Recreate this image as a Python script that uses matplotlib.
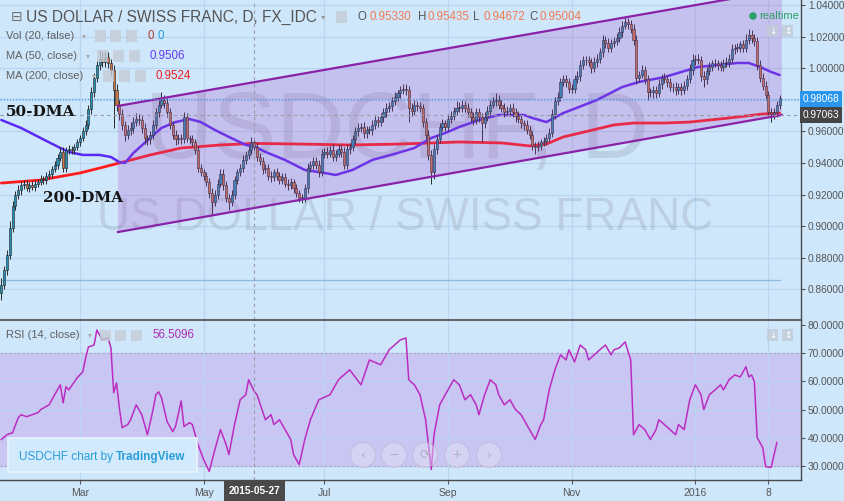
import numpy as np
import pandas as pd
import matplotlib
matplotlib.use("Agg")
import matplotlib.pyplot as plt
from matplotlib.patches import Rectangle, Ellipse, Polygon

plt.rcParams['font.family'] = ['Liberation Sans', 'DejaVu Sans']

# ---------------- data ----------------
dates = pd.bdate_range('2015-01-21', '2016-02-12')
first_open = 0.858
closes = [
    0.863, 0.872, 0.882, 0.899, 0.913, 0.920, 0.923, 0.926, 0.927, 0.924,
    0.926, 0.925, 0.927, 0.928, 0.930, 0.929, 0.932, 0.933, 0.936, 0.939,
    0.943, 0.947, 0.937, 0.948, 0.949, 0.948, 0.950, 0.953, 0.956, 0.960,
    0.964, 0.974, 0.985, 0.994, 1.002, 1.006, 1.004, 1.007, 1.003, 0.999,
    0.986, 0.977, 0.971, 0.964, 0.958, 0.961, 0.962, 0.966, 0.968, 0.967,
    0.962, 0.956, 0.955, 0.958, 0.964, 0.972, 0.977, 0.980, 0.978, 0.972,
    0.964, 0.958, 0.955, 0.956, 0.955, 0.969, 0.956, 0.955, 0.953, 0.948,
    0.937, 0.934, 0.932, 0.928, 0.921, 0.915, 0.920, 0.927, 0.933, 0.926,
    0.918, 0.915, 0.920, 0.929, 0.934, 0.937, 0.942, 0.945, 0.948, 0.9533,
    0.9500, 0.944, 0.941, 0.936, 0.937, 0.932, 0.931, 0.934, 0.932, 0.929,
    0.931, 0.927, 0.926, 0.928, 0.924, 0.921, 0.918, 0.918, 0.924, 0.937,
    0.939, 0.941, 0.939, 0.934, 0.946, 0.947, 0.946, 0.948, 0.944, 0.946,
    0.949, 0.947, 0.939, 0.949, 0.950, 0.955, 0.960, 0.962, 0.963, 0.959,
    0.961, 0.961, 0.964, 0.967, 0.966, 0.969, 0.972, 0.975, 0.976, 0.979,
    0.982, 0.984, 0.986, 0.987, 0.986, 0.975, 0.973, 0.977, 0.976, 0.975,
    0.966, 0.958, 0.945, 0.934, 0.949, 0.955, 0.963, 0.965, 0.963, 0.968,
    0.970, 0.973, 0.975, 0.975, 0.977, 0.975, 0.972, 0.969, 0.967, 0.972,
    0.969, 0.965, 0.969, 0.973, 0.977, 0.979, 0.980, 0.977, 0.975, 0.972,
    0.973, 0.975, 0.972, 0.970, 0.968, 0.965, 0.964, 0.961, 0.958, 0.951,
    0.950, 0.951, 0.953, 0.954, 0.956, 0.959, 0.971, 0.979, 0.982, 0.991,
    0.993, 0.991, 0.987, 0.987, 0.993, 0.995, 1.002, 1.005, 1.005, 1.004,
    1.000, 1.004, 1.006, 1.010, 1.018, 1.016, 1.013, 1.016, 1.017, 1.019,
    1.023, 1.027, 1.029, 1.028, 1.025, 1.018, 0.994, 0.996, 0.999, 0.993,
    0.985, 0.985, 0.986, 0.984, 0.990, 0.994, 0.993, 0.991, 0.988, 0.988,
    0.986, 0.988, 0.986, 0.989, 0.993, 0.999, 1.005, 1.006, 1.005, 0.995,
    0.993, 0.998, 1.001, 1.003, 1.003, 1.002, 1.001, 1.003, 1.004, 1.006,
    1.012, 1.013, 1.013, 1.015, 1.013, 1.018, 1.021, 1.019, 1.017, 1.002,
    0.994, 0.989, 0.983, 0.972, 0.971, 0.972, 0.977, 0.981]
# wick lengths above / below the body, in pips
wick_hi = [
    40, 30, 30, 40, 30, 25, 30, 25, 20, 25, 20, 25, 20, 20, 25, 20, 20, 25, 20, 25,
    30, 30, 30, 20, 25, 20, 20, 25, 20, 25, 30, 30, 30, 30, 30, 55, 40, 40, 35, 30,
    30, 40, 30, 30, 25, 30, 40, 30, 35, 30, 25, 30, 20, 25, 30, 30, 30, 50, 30, 30,
    25, 25, 30, 25, 25, 30, 25, 20, 25, 25, 30, 25, 20, 25, 25, 30, 30, 30, 35, 30,
    25, 25, 30, 30, 25, 25, 30, 25, 25, 30, 15, 30, 25, 30, 25, 25, 30, 25, 30, 25,
    25, 25, 30, 25, 20, 25, 20, 25, 30, 30, 25, 30, 25, 30, 30, 25, 30, 30, 40, 25,
    30, 25, 30, 30, 25, 30, 30, 30, 25, 30, 25, 25, 30, 25, 30, 25, 30, 30, 25, 30,
    30, 25, 30, 30, 30, 25, 30, 30, 25, 25, 25, 25, 30, 30, 30, 30, 25, 30, 25, 30,
    30, 25, 40, 35, 30, 25, 30, 25, 30, 30, 30, 25, 30, 30, 30, 25, 40, 30, 30, 30,
    30, 25, 30, 25, 30, 30, 25, 30, 25, 25, 25, 30, 25, 25, 25, 30, 30, 25, 30, 30,
    30, 25, 30, 30, 25, 30, 30, 30, 25, 30, 25, 30, 30, 30, 30, 25, 30, 25, 30, 30,
    30, 30, 35, 30, 25, 30, 30, 25, 30, 25, 25, 25, 30, 25, 30, 25, 30, 25, 30, 25,
    30, 25, 25, 30, 30, 35, 40, 25, 30, 30, 30, 25, 30, 25, 30, 25, 25, 30, 30, 30,
    30, 25, 30, 25, 30, 35, 40, 30, 25, 30, 30, 30, 30, 25, 30, 30, 25, 20]
wick_lo = [
    50, 30, 30, 30, 25, 30, 25, 30, 25, 20, 25, 20, 25, 20, 20, 25, 20, 20, 25, 20,
    25, 20, 30, 25, 20, 25, 20, 20, 25, 20, 25, 25, 30, 30, 30, 30, 30, 30, 30, 35,
    240, 40, 35, 30, 40, 30, 35, 30, 25, 30, 30, 40, 35, 30, 25, 25, 30, 25, 30, 30,
    25, 30, 35, 30, 30, 25, 25, 30, 25, 25, 30, 25, 30, 25, 30, 80, 25, 30, 25, 30,
    30, 50, 25, 30, 25, 25, 30, 25, 25, 20, 35, 30, 25, 30, 25, 25, 30, 25, 30, 25,
    25, 25, 30, 25, 30, 25, 30, 35, 25, 30, 25, 30, 25, 30, 25, 30, 30, 25, 30, 30,
    25, 30, 30, 25, 30, 25, 30, 30, 25, 30, 30, 25, 30, 25, 30, 25, 30, 30, 25, 30,
    25, 30, 30, 25, 30, 90, 30, 25, 30, 30, 30, 30, 30, 70, 40, 30, 25, 30, 25, 30,
    25, 30, 25, 30, 30, 25, 30, 30, 30, 25, 30, 120, 30, 25, 30, 25, 30, 30, 25, 30,
    25, 30, 30, 40, 25, 30, 30, 25, 30, 30, 40, 25, 30, 25, 25, 30, 25, 30, 25, 30,
    25, 30, 25, 25, 30, 25, 30, 25, 30, 25, 30, 25, 30, 25, 30, 30, 25, 30, 25, 25,
    25, 30, 25, 30, 30, 35, 40, 30, 25, 30, 50, 30, 40, 30, 25, 30, 25, 30, 25, 30,
    30, 25, 30, 25, 30, 25, 30, 30, 25, 30, 50, 30, 25, 30, 25, 30, 25, 30, 25, 30,
    25, 30, 25, 30, 25, 30, 25, 30, 30, 30, 30, 30, 30, 30, 50, 30, 30, 30]

# moving averages (bar index, value)
ma50_idx = [0, 7, 14, 21, 24, 29, 35, 39, 42, 44, 47, 51, 57, 62, 67, 71, 76, 81, 87, 90,
            94, 101, 108, 115, 119, 125, 132, 141, 147, 153, 158, 163, 170, 177, 182,
            186, 189, 194, 200, 212, 221, 227, 236, 242, 248, 255, 262, 266, 270, 274, 277]
ma50_val = [0.9672, 0.9622, 0.9558, 0.9495, 0.9470, 0.9451, 0.9451, 0.9438, 0.9406, 0.9400,
            0.9463, 0.9527, 0.9622, 0.9659, 0.9678, 0.9659, 0.9609, 0.9565, 0.9514, 0.9506,
            0.9470, 0.9419, 0.9356, 0.9337, 0.9324, 0.9356, 0.9419, 0.9463, 0.9495, 0.9558,
            0.9590, 0.9628, 0.9672, 0.9704, 0.9704, 0.9704, 0.9685, 0.9659, 0.9716, 0.9799,
            0.9881, 0.9913, 0.9944, 0.9976, 1.0008, 1.0020, 1.0033, 1.0033, 1.0008, 0.9976,
            0.9957]
ma200_idx = [0, 14, 28, 35, 42, 53, 64, 78, 90, 106, 124, 142, 163, 178, 188, 194,
             200, 206, 218, 225, 236, 245, 259, 271, 277]
ma200_val = [0.9273, 0.9292, 0.9337, 0.9368, 0.9400, 0.9451, 0.9495, 0.9514, 0.9524, 0.9520,
             0.9514, 0.9520, 0.9533, 0.9527, 0.9508, 0.9520, 0.9565, 0.9590, 0.9641, 0.9653,
             0.9653, 0.9659, 0.9685, 0.9710, 0.9716]

# RSI(14) (bar index, value)
rsi_idx = [0, 2, 4, 6, 7, 9, 11, 13, 14, 17, 19, 21, 22, 23, 24, 27, 29, 30, 31, 33,
           34, 36, 38, 39, 40, 41, 42, 43, 45, 46, 48, 50, 52, 54, 55, 56, 57, 59, 61, 62,
           64, 65, 67, 68, 70, 72, 74, 76, 78, 80, 81, 83, 85, 87, 88, 90, 91, 94, 96, 97,
           99, 101, 103, 104, 106, 108, 110, 113, 117, 120, 124, 128, 131, 135, 138, 142,
           144, 145, 147, 149, 151, 153, 154, 156, 158, 161, 163, 165, 167, 169, 170, 172,
           174, 176, 177, 179, 181, 183, 185, 186, 188, 190, 192, 193, 195, 197, 199, 201,
           202, 204, 206, 208, 209, 211, 213, 215, 217, 218, 220, 222, 224, 225, 227, 229,
           231, 233, 234, 236, 238, 240, 241, 243, 245, 247, 249, 250, 252, 254, 256, 257,
           259, 261, 263, 265, 266, 267, 268, 269, 271, 272, 274, 276]
rsi_val = [39.4, 41.1, 41.8, 47.1, 48.2, 47.5, 48.2, 48.9, 50.0, 51.7, 55.3, 58.8, 52.4, 58.1,
           57.0, 61.3, 63.4, 68.3, 72.2, 72.9, 78.2, 74.7, 75.4, 71.9, 56.0, 59.5, 50.7, 43.6,
           44.7, 46.4, 51.7, 48.2, 41.1, 50.0, 55.3, 56.3, 54.2, 45.7, 42.2, 44.0, 53.1, 44.0,
           45.4, 44.7, 37.6, 32.3, 28.1, 35.8, 42.9, 37.6, 34.1, 44.7, 53.5, 55.3, 60.6, 56.5,
           55.3, 46.4, 48.2, 44.7, 46.4, 42.9, 39.4, 34.1, 30.5, 39.4, 46.4, 53.5, 55.3, 60.6,
           64.1, 58.8, 67.6, 65.9, 71.2, 74.7, 75.4, 60.6, 58.8, 55.3, 46.4, 28.8, 41.1, 51.7,
           55.3, 60.6, 58.8, 53.5, 55.3, 51.7, 48.2, 55.3, 60.6, 58.8, 55.3, 51.7, 53.5, 50.0,
           48.2, 46.4, 42.9, 39.4, 44.7, 46.4, 57.0, 64.1, 69.4, 67.6, 71.2, 66.9, 72.9, 71.2,
           67.6, 69.4, 71.2, 72.9, 69.4, 71.2, 71.9, 74.0, 67.6, 41.1, 44.7, 42.9, 39.4, 42.9,
           46.4, 44.7, 42.9, 41.1, 44.7, 42.9, 53.5, 58.8, 55.3, 50.0, 55.3, 57.0, 58.8, 57.0,
           60.6, 62.3, 61.6, 65.2, 61.6, 62.3, 59.9, 40.1, 36.5, 29.8, 29.5, 38.3]

# trend channel drawn on the chart (bar index, price)
chan_idx = [41.5, 277.8]
chan_upper = [0.9761, 1.0495]
chan_lower = [0.8963, 0.9704]
hline_price = 0.866

last_price = 0.98068
cross_price = 0.97063
cross_date = '2015-05-27'

price_ticks = [0.86, 0.88, 0.90, 0.92, 0.94, 0.96, 0.98, 1.00, 1.02, 1.04]
hidden_tick = 0.98  # covered by the last-price label
rsi_ticks = [30, 40, 50, 60, 70, 80]
time_tick_dates = ['2015-03-02', '2015-05-01', '2015-07-01', '2015-09-01',
                   '2015-11-02', '2016-01-01', '2016-02-08']
time_tick_labels = ['Mar', 'May', 'Jul', 'Sep', 'Nov', '2016', '8']

# ---------------- styling ----------------
W, H = 844, 501
BG = '#cfe7fb'
GRID = '#b8d6f1'
UP = '#2290b4'
DN = '#cf7440'
EDGE = '#1e1e1e'
TXT = '#555555'


def fx(x):
    return x / W


def fy(y):
    return 1 - y / H


fig = plt.figure(figsize=(W / 100, H / 100), dpi=100, facecolor=BG)
ax = fig.add_axes([0, 1 - 320 / H, 801 / W, 320 / H], facecolor=BG)
ax2 = fig.add_axes([0, 1 - 480 / H, 801 / W, 160 / H], facecolor=BG, sharex=ax)

n = len(closes)
idx = np.arange(n)
c = np.array(closes)
o = np.array([first_open] + closes[:-1])
hi = np.maximum(o, c) + np.array(wick_hi) / 1e4
lo = np.minimum(o, c) - np.array(wick_lo) / 1e4

x0, x1 = -0.47, 284.6
ax.set_xlim(x0, x1)
ax.set_ylim(0.84063, 1.04316)
ax2.set_ylim(25.05, 81.77)

# grid
tick_pos = [dates.get_loc(pd.Timestamp(d)) for d in time_tick_dates]
for a in (ax, ax2):
    for p in tick_pos:
        a.axvline(p, color=GRID, lw=0.9, zorder=0.5)
for p in price_ticks:
    ax.axhline(p, color=GRID, lw=0.9, zorder=0.5)
for r in [40, 50, 60]:
    ax2.axhline(r, color=GRID, lw=0.9, zorder=0.5)

# watermark
ax.text(397 / 801, 1 - 158 / 320, 'USDCHF, D', transform=ax.transAxes, ha='center',
        va='baseline', fontsize=68, color='#8f93a6', alpha=0.28, zorder=1)
ax.text(405 / 801, 1 - 230 / 320, 'US DOLLAR / SWISS FRANC', transform=ax.transAxes,
        ha='center', va='baseline', fontsize=33, color='#8f93a6', alpha=0.28, zorder=1)

# moving averages
ax.plot(ma200_idx, ma200_val, color='#ff1c1c', lw=2.0, zorder=3, solid_capstyle='round')
ax.plot(ma50_idx, ma50_val, color='#5a2af2', lw=1.8, zorder=3, solid_capstyle='round')

# candles
ax.vlines(idx, lo, hi, color='#2a2a2a', lw=0.7, zorder=4)
up = c >= o
body_h = np.maximum(np.abs(c - o), 0.0004)
ax.bar(idx[up], body_h[up], bottom=np.minimum(o, c)[up], width=0.75, color=UP,
       edgecolor=EDGE, linewidth=0.4, zorder=5)
ax.bar(idx[~up], body_h[~up], bottom=np.minimum(o, c)[~up], width=0.75, color=DN,
       edgecolor=EDGE, linewidth=0.4, zorder=5)

# channel
poly = Polygon([(chan_idx[0], chan_upper[0]), (chan_idx[1], chan_upper[1]),
                (chan_idx[1], chan_lower[1]), (chan_idx[0], chan_lower[0])],
               closed=True, facecolor='#a653c8', alpha=0.25, edgecolor='none', zorder=6)
ax.add_patch(poly)
ax.plot(chan_idx, chan_upper, color='#8a22a8', lw=1.6, zorder=7)
ax.plot(chan_idx, chan_lower, color='#8a22a8', lw=1.6, zorder=7)

# horizontal drawn line and price lines
ax.plot([0, n - 1], [hline_price, hline_price], color='#8db8dc', lw=0.9, zorder=2)
ax.axhline(last_price, color='#3d9be8', lw=0.9, ls=(0, (1, 1.5)), zorder=8)
ax.axhline(cross_price, color='#9a9aa6', lw=0.8, ls=(0, (3, 3)), zorder=8)
cross_i = dates.get_loc(pd.Timestamp(cross_date))
for a in (ax, ax2):
    a.axvline(cross_i, color='#9a9aa6', lw=0.8, ls=(0, (3, 3)), zorder=8)

# annotations
ax.text(6 / 801, 1 - 112 / 320, '50-DMA', transform=ax.transAxes, fontsize=11,
        fontweight='bold', family='DejaVu Serif', color='#151515', va='center', zorder=9)
ax.text(43 / 801, 1 - 198 / 320, '200-DMA', transform=ax.transAxes, fontsize=11,
        fontweight='bold', family='DejaVu Serif', color='#151515', va='center', zorder=9)

# RSI panel
ax2.axhspan(30, 70, color='#c9c6f4', zorder=0.3)
for r in (30, 70):
    ax2.axhline(r, color='#a8a8c0', lw=0.8, ls=(0, (2, 2)), zorder=0.6)
ax2.plot(rsi_idx, rsi_val, color='#bb2cc0', lw=1.1, zorder=5)

# axes appearance
for a in (ax, ax2):
    a.yaxis.tick_right()
    for s in ('left', 'top', 'bottom'):
        a.spines[s].set_visible(False)
    a.spines['right'].set_color('#4a4a4a')
    a.spines['right'].set_linewidth(1.0)
    a.tick_params(axis='y', which='both', labelsize=7.3, colors=TXT, length=3, pad=2,
                  width=0.8)
ax.set_yticks(price_ticks)
ax.set_yticklabels(['' if abs(p - hidden_tick) < 1e-9 else f'{p:.5f}' for p in price_ticks])
ax2.set_yticks(rsi_ticks)
ax2.set_yticklabels([f'{r:.4f}' for r in rsi_ticks])
ax2.spines['top'].set_visible(True)
ax2.spines['top'].set_color('#4a4a4a')
ax2.spines['top'].set_linewidth(1.2)
ax2.spines['bottom'].set_visible(True)
ax2.spines['bottom'].set_color('#4a4a4a')
ax2.spines['bottom'].set_linewidth(1.0)
ax.tick_params(axis='x', bottom=False, labelbottom=False)
ax2.set_xticks(tick_pos)
ax2.set_xticklabels(time_tick_labels)
ax2.tick_params(axis='x', labelsize=7.5, colors=TXT, length=3, pad=3, width=0.8)
ax.set_xlim(x0, x1)

# price labels on the axis
fig.text(fx(803), fy(99), f'{last_price:.5f}', fontsize=7.3, color='white', va='center',
         ha='left', bbox=dict(boxstyle='square,pad=0.25', fc='#2a96ee', ec='none'))
fig.text(fx(803), fy(115), f'{cross_price:.5f}', fontsize=7.3, color='white', va='center',
         ha='left', bbox=dict(boxstyle='square,pad=0.25', fc='#454545', ec='none'))
fig.text(fx(cross_i * 2.81 + 1.3), fy(491), cross_date, fontsize=7.3, color='white',
         va='center', ha='center', fontweight='bold',
         bbox=dict(boxstyle='square,pad=0.45', fc='#4a4a4a', ec='none'))

# top legends
fig.text(fx(11), fy(17), '⊟', fontsize=10, color='#707070', va='center', family='DejaVu Sans')
fig.text(fx(26), fy(17), 'US DOLLAR / SWISS FRANC, D, FX_IDC', fontsize=11.2, color=TXT,
         va='center')
fig.text(fx(321), fy(17), '▾', fontsize=6, color='#999', va='center', family='DejaVu Sans')


def icon(x, y, w=11, h=11, color='#c4ccd6'):
    fig.patches.append(Rectangle((fx(x), fy(y + h / 2)), w / W, h / H, transform=fig.transFigure,
                                 fc=color, ec='none', alpha=0.8, zorder=5))


def disc(x, y, r, **kw):
    fig.patches.append(Ellipse((fx(x), fy(y)), 2 * r / W, 2 * r / H, transform=fig.transFigure,
                               **kw))


icon(336, 17)
ohlc = [('O', 357, '0.95330', 369), ('H', 418, '0.95435', 428), ('L', 473, '0.94672', 483),
        ('C', 529, '0.95004', 540)]
for lab, xl, val, xv in ohlc:
    fig.text(fx(xl), fy(17), lab, fontsize=8.3, color=TXT, va='center')
    fig.text(fx(xv), fy(17), val, fontsize=8.3, color='#f47a50', va='center')

rows = [('Vol (20, false)', 36, 82, [95, 110, 126]),
        ('MA (50, close)', 56, 86, [97, 113, 129]),
        ('MA (200, close)', 76, 92, [103, 119, 135])]
for txt, y, xa, xs in rows:
    fig.text(fx(6), fy(y), txt, fontsize=8, color='#606060', va='center')
    fig.text(fx(xa), fy(y), '▾', fontsize=5.5, color='#aaa', va='center', family='DejaVu Sans')
    for xi in xs:
        icon(xi, y)
fig.text(fx(147), fy(36), '0', fontsize=8.3, color='#b03a30', va='center')
fig.text(fx(158), fy(36), '0', fontsize=8.3, color='#25a0e0', va='center')
fig.text(fx(149), fy(56), '0.9506', fontsize=8.3, color='#6338f5', va='center')
fig.text(fx(156), fy(76), '0.9524', fontsize=8.3, color='#f21c1c', va='center')

fig.text(fx(6), fy(335), 'RSI (14, close)', fontsize=8, color='#606060', va='center')
fig.text(fx(88), fy(335), '▾', fontsize=5.5, color='#aaa', va='center', family='DejaVu Sans')
for xi in [100, 115, 131]:
    icon(xi, 335)
fig.text(fx(152), fy(335), '56.5096', fontsize=8.3, color='#b02cb4', va='center')

# realtime marker
disc(753, 16, 3.8, fc='#2aa06a', ec='none', zorder=6)
fig.text(fx(759), fy(16), 'realtime', fontsize=8, color='#2f9e6c', va='center')

# small scale buttons
for yb in (31, 335):
    for xb, g in ((767, '↓'), (782, '↕')):
        icon(xb, yb, 11, 12, '#c2cbd6')
        fig.text(fx(xb + 5.5), fy(yb), g, fontsize=6.5, color='white', ha='center', va='center',
                 family='DejaVu Sans', zorder=7)

# navigation buttons
for xb, g in ((363, '‹'), (394, '−'), (425, '⟳'), (457, '+'), (489, '›')):
    disc(xb, 455, 12.5, fc='#e4e2f6', ec='#b4b4c8', lw=0.9, alpha=0.45, zorder=6)
    fig.text(fx(xb), fy(455), g, fontsize=9, color='#b0b0c2', ha='center', va='center',
             family='DejaVu Sans', zorder=7)

# TradingView box
fig.patches.append(Rectangle((fx(8), fy(472)), 189 / W, 34 / H, transform=fig.transFigure,
                             fc='#d3eafc', ec='#e8f4fe', lw=1.2, zorder=6))
t1 = fig.text(fx(19), fy(457), 'USDCHF chart by ', fontsize=8.5, color='#2a9ddb', va='center',
              zorder=7)
fig.canvas.draw()
bb = t1.get_window_extent()
fig.text(bb.x1 / W, fy(457), 'TradingView', fontsize=8.5, color='#2a9ddb', va='center',
         fontweight='bold', zorder=7)
fig.lines.append(plt.Line2D([bb.x1 / W, (bb.x1 + 67) / W], [fy(464), fy(464)],
                            transform=fig.transFigure, color='#2a9ddb', lw=0.8))

fig.savefig('out.png', dpi=100, facecolor=BG)
